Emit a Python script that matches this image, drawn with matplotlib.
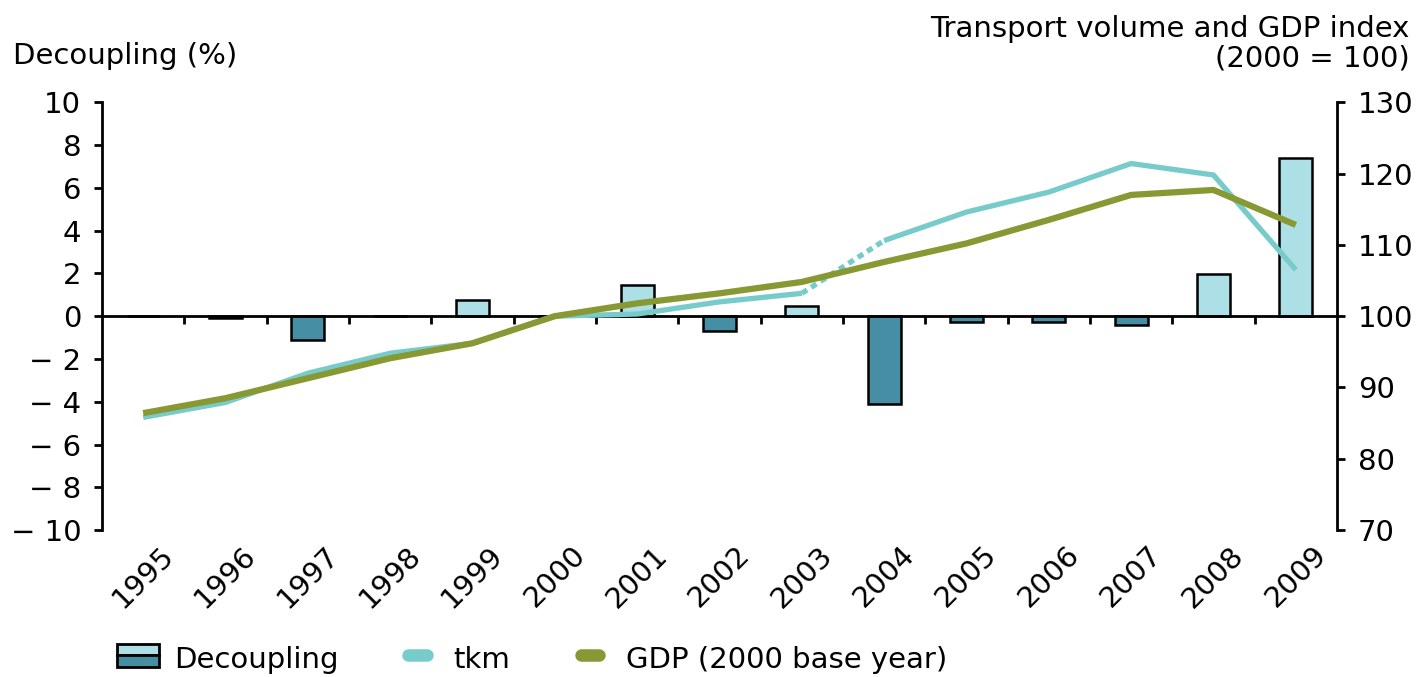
import numpy as np
import matplotlib.pyplot as plt
from matplotlib.patches import Rectangle
from matplotlib.legend_handler import HandlerBase

# Data
years = [str(y) for y in range(1995, 2010)]
decoupling = [0.0, -0.1, -1.1, 0.0, 0.75, 0.0, 1.45, -0.7, 0.47, -4.1,
              -0.25, -0.25, -0.4, 1.96, 7.38]
tkm = [85.8, 87.9, 92.0, 94.8, 96.2, 100.0, 100.3, 102.0, 103.2, 110.6,
       114.6, 117.4, 121.4, 119.8, 106.5]
gdp = [86.4, 88.5, 91.3, 94.1, 96.2, 100.0, 101.8, 103.2, 104.8, 107.6,
       110.2, 113.5, 117.0, 117.7, 112.8]

light = "#ADE0E6"
dark = "#468EA4"
tkm_col = "#77CCCB"
gdp_col = "#889933"

fs = 21
plt.rcParams["font.family"] = "DejaVu Sans"
plt.rcParams["font.size"] = fs


class SplitBoxHandler(HandlerBase):
    def create_artists(self, legend, orig, xd, yd, w, h, fontsize, trans):
        top = Rectangle((xd, yd + h / 2), w, h / 2, facecolor=light,
                        edgecolor="black", lw=2, transform=trans)
        bot = Rectangle((xd, yd), w, h / 2, facecolor=dark,
                        edgecolor="black", lw=2, transform=trans)
        return [top, bot]


class ShortLineHandler(HandlerBase):
    # short, thick, round-capped stroke centred in the handle box
    def create_artists(self, legend, orig, xd, yd, w, h, fontsize, trans):
        from matplotlib.lines import Line2D
        mid = xd + w / 2
        ln = Line2D([mid - w * 0.22, mid + w * 0.22], [yd + h / 2] * 2,
                    color=orig.get_color(), lw=orig.get_linewidth(),
                    solid_capstyle="round", transform=trans)
        return [ln]


fig = plt.figure(figsize=(14.17, 6.77), dpi=100)
ax = fig.add_axes([0.072, 0.217, 0.8715, 0.632])
x = np.arange(len(years))

colors = [light if v >= 0 else dark for v in decoupling]
ax.bar(x, decoupling, width=0.4, color=colors, edgecolor="black",
       linewidth=1.8, zorder=2)

ax.set_xlim(-0.5, len(years) - 0.5)
ax.set_ylim(-10, 10)
ax.set_yticks(range(-10, 11, 2))
ax.set_yticklabels([("\u2212 %d" % abs(v)) if v < 0 else str(v)
                    for v in range(-10, 11, 2)])
ax.spines["top"].set_visible(False)
ax.spines["right"].set_visible(False)
ax.spines["bottom"].set_position(("data", 0))
ax.spines["left"].set_linewidth(2)
ax.spines["bottom"].set_linewidth(2)
ax.spines["bottom"].set_zorder(3)
ax.set_xticks(np.arange(0.5, len(years) - 1, 1.0))
ax.set_xticklabels([])
ax.tick_params(axis="x", direction="out", length=6, width=2)
ax.tick_params(axis="y", direction="out", length=6, width=2, pad=9)

for xi, yr in zip(x, years):
    ax.text(xi + 0.2, -0.025, yr, transform=ax.get_xaxis_transform(),
            rotation=45, ha="right", va="top", rotation_mode="anchor",
            fontsize=fs)

ax2 = ax.twinx()
ax2.set_ylim(70, 130)
ax2.set_yticks(range(70, 131, 10))
for s in ["top", "left", "bottom"]:
    ax2.spines[s].set_visible(False)
ax2.spines["right"].set_linewidth(2)
ax2.tick_params(axis="y", direction="out", length=6, width=2, pad=9)

ax2.plot(x[:9], tkm[:9], color=tkm_col, lw=3.8, solid_capstyle="butt")
ax2.plot(x[8:10], tkm[8:10], color=tkm_col, lw=3.8, linestyle=(0, (1.2, 0.9)))
ax2.plot(x[9:], tkm[9:], color=tkm_col, lw=3.8, solid_capstyle="butt")
ax2.plot(x, gdp, color=gdp_col, lw=4.5, solid_capstyle="butt")

fig.text(0.009, 0.918, "Decoupling (%)", ha="left", va="center", fontsize=fs)
fig.text(0.995, 0.935, "Transport volume and GDP index\n(2000 = 100)",
         ha="right", va="center", fontsize=fs, linespacing=1.05)

h_bar = Rectangle((0, 0), 1, 1)
h_tkm, = ax2.plot([], [], color=tkm_col, lw=9)
h_gdp, = ax2.plot([], [], color=gdp_col, lw=9)
line_handler = ShortLineHandler()
fig.legend([h_bar, h_tkm, h_gdp], ["Decoupling", "tkm", "GDP (2000 base year)"],
           handler_map={Rectangle: SplitBoxHandler(),
                        h_tkm: line_handler, h_gdp: line_handler},
           loc="lower left", bbox_to_anchor=(0.064, -0.035), ncol=3,
           frameon=False, fontsize=fs, handlelength=1.45, handleheight=0.85,
           columnspacing=2.0, handletextpad=0.5)

plt.savefig("out.png", dpi=100)
